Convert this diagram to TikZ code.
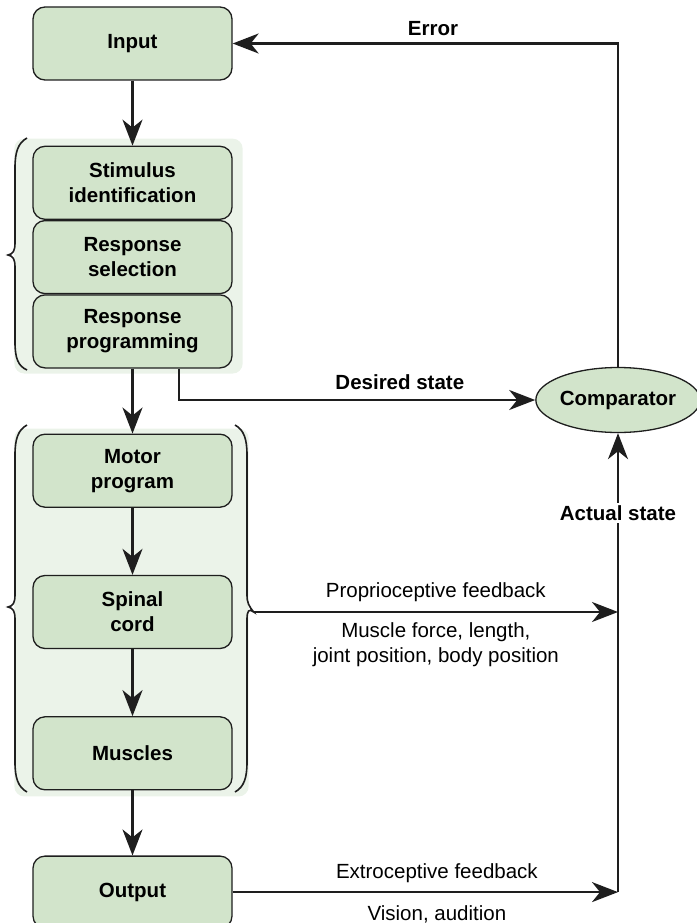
\documentclass[tikz,border=0pt]{standalone}
\usepackage{fontspec}
\setmainfont{Liberation Sans}
\usepackage{tikz}
\usetikzlibrary{positioning,shapes.geometric,arrows.meta,backgrounds}
\newdimen\rowGap
\definecolor{boxgreen}{HTML}{D2E4CB}
\definecolor{bggreen}{HTML}{EBF3E9}
\definecolor{edge}{HTML}{1E1E1E}

\begin{document}
\rowGap=65pt
\begin{tikzpicture}[
    x=1pt, y=1pt,
    stage/.style={%
      draw=edge,
      line width=1.3pt,
      fill=boxgreen,
      rectangle,
      rounded corners=12pt,
      minimum width=199pt,
      minimum height=73pt,
      align=center,
      font=\fontsize{20.5}{25}\selectfont\bfseries,
    },
    comp/.style={%
      draw=edge,
      line width=1.3pt,
      fill=boxgreen,
      ellipse,
      inner sep=0pt,
      minimum width=158pt,
      minimum height=65pt,
      font=\fontsize{20.5}{25}\selectfont\bfseries,
    },
    flow/.style={%
      draw=edge,
      line width=2.3pt,
      -{Stealth[length=26pt,width=20pt,inset=8pt]},
    },
    lab/.style={font=\fontsize{20.5}{25}\selectfont\bfseries},
    note/.style={font=\fontsize{20.5}{25}\selectfont, align=center},
    brace/.style={draw=edge, line width=1.6pt},
  ]
    \useasboundingbox (0,0) rectangle (696,-923);

    \node [stage] (input) at (132.5,-43.5) {Input};
    \node [stage, below=\rowGap of input] (stim) {Stimulus\\identification};
    \node [stage, below=0pt of stim] (sel) {Response\\selection};
    \node [stage, below=0pt of sel] (prog) {Response\\programming};
    \node [stage, below=\rowGap of prog] (motor) {Motor\\program};
    \node [stage, below=67pt of motor] (spinal) {Spinal\\cord};
    \node [stage, below=67pt of spinal] (muscles) {Muscles};
    \node [stage, below=\rowGap of muscles, minimum height=72pt] (output) {Output};

    \node [comp] (comp) at (618,-400) {Comparator};

    \coordinate (sum) at (comp.south |- output.east);
    \coordinate (tip) at ([xshift=21pt]spinal.east);

    % shaded groups and their braces
    \begin{scope}[on background layer]
      \fill [bggreen, rounded corners=10pt]
        ([xshift=-18pt,yshift=7pt]stim.north west) rectangle ([xshift=10pt,yshift=-5pt]prog.south east);
      \fill [bggreen, rounded corners=10pt]
        ([xshift=-18pt,yshift=5pt]motor.north west) rectangle ([xshift=16pt,yshift=-6pt]muscles.south east);
    \end{scope}

    \draw [brace] (27,-138) .. controls (18,-143) and (15,-152) .. (15,-168) -- (15,-243)
      .. controls (15,-251) and (13,-254) .. (8,-255) .. controls (13,-256) and (15,-259) .. (15,-267)
      -- (15,-342) .. controls (15,-358) and (18,-366) .. (27,-370);
    \draw [brace] (27,-425) .. controls (18,-430) and (15,-439) .. (15,-455) -- (15,-595)
      .. controls (15,-603) and (13,-606) .. (8,-607) .. controls (13,-608) and (15,-611) .. (15,-619)
      -- (15,-762) .. controls (15,-778) and (18,-787) .. (27,-792);
    \draw [brace] (235,-425) .. controls (244,-430) and (247,-439) .. (247,-455) -- (247,-595)
      .. controls (247,-603) and (249,-606) .. (tip) .. controls (249,-608) and (247,-611) .. (247,-619)
      -- (247,-762) .. controls (247,-778) and (244,-787) .. (235,-792);

    \draw [flow] (input) -- (stim);
    \draw [flow] (prog) -- (motor);
    \draw [flow] (motor) -- (spinal);
    \draw [flow] (spinal) -- (muscles);
    \draw [flow] (muscles) -- (output);

    \draw [flow] ([xshift=46.5pt]prog.south) |- (comp.west)
      node [lab, pos=0.81, yshift=18pt] {Desired state};
    \draw [flow] (comp.north) |- (input.east)
      node [lab, pos=0.74, yshift=15pt] {Error};
    \draw [flow] (sum) -- (comp.south)
      node [lab, pos=0.826, fill=white, inner sep=2pt] {Actual state};

    \draw [flow] (tip) -- (tip -| sum)
      node [note, midway, yshift=20pt] {Proprioceptive feedback}
      node [note, midway, yshift=-33pt] {Muscle force, length,\\joint position, body position};
    \draw [flow] (output) -- (sum)
      node [note, pos=0.53, yshift=19pt] {Extroceptive feedback}
      node [note, pos=0.53, yshift=-22pt] {Vision, audition};
\end{tikzpicture}
\end{document}
